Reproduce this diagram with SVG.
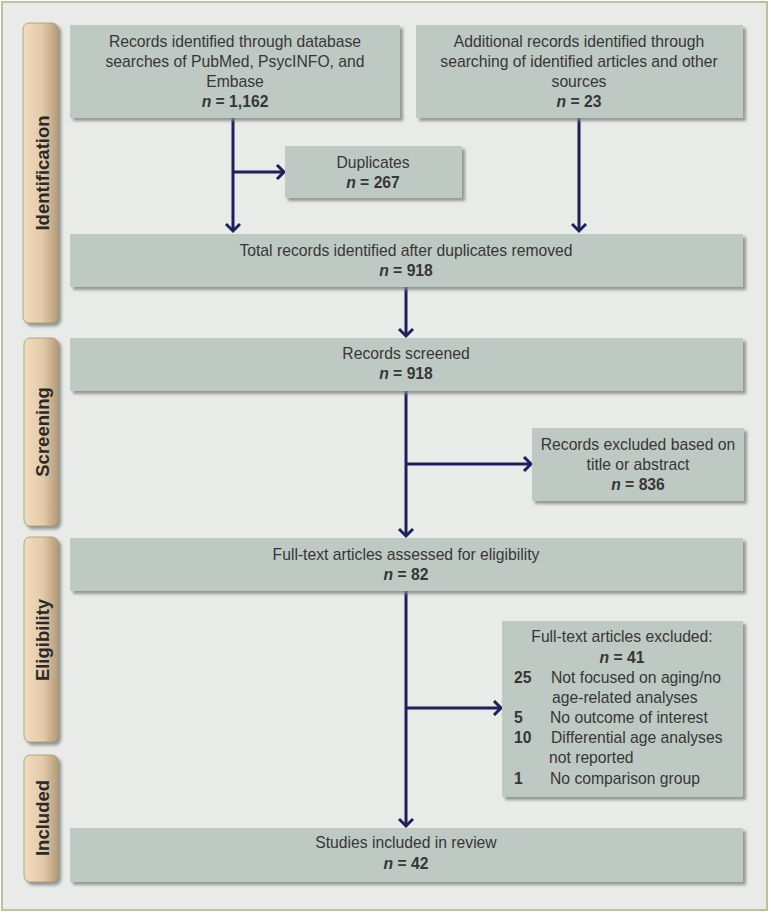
<svg xmlns="http://www.w3.org/2000/svg" width="771" height="913" viewBox="0 0 771 913">
<defs>
<linearGradient id="tabg" x1="0" y1="0" x2="1" y2="0">
<stop offset="0" stop-color="#f0dcc0"/>
<stop offset="0.55" stop-color="#e3cba9"/>
<stop offset="1" stop-color="#b49c7c"/>
</linearGradient>
<filter id="sh" x="-10%" y="-10%" width="130%" height="140%">
<feDropShadow dx="3" dy="3" stdDeviation="1.5" flood-color="#7d847f" flood-opacity="0.8"/>
</filter>
<marker id="ah" markerWidth="12" markerHeight="16" refX="9" refY="8" orient="auto" markerUnits="userSpaceOnUse">
<path d="M2,1 L9,8 L2,15" fill="none" stroke="#1e1f5b" stroke-width="3"/>
</marker>
</defs>
<style>
.box{fill:#bfc9c4;filter:url(#sh);}
.tab{fill:url(#tabg);stroke:#a99272;stroke-width:0.8;filter:url(#sh);}
text{font-family:"Liberation Sans","Open Sans",sans-serif;font-size:15.7px;fill:#363636;}
.c{text-anchor:middle;}
.b{font-weight:bold;}
.tl{font-weight:bold;font-size:18.5px;fill:#2a2a2a;text-anchor:middle;}
.con{fill:none;stroke:#1e1f5b;stroke-width:3;}
</style>
<rect x="2" y="2" width="765" height="908" fill="#e9ebe8" stroke="#c4bea0" stroke-width="2"/>

<g id="tab-identification">
<rect class="tab" x="23" y="23" width="35" height="300" rx="6"/>
<text class="tl" transform="translate(49,173) rotate(-90)">Identification</text>
</g>
<g id="tab-screening">
<rect class="tab" x="24" y="338" width="34" height="188" rx="6"/>
<text class="tl" transform="translate(48.5,432) rotate(-90)">Screening</text>
</g>
<g id="tab-eligibility">
<rect class="tab" x="24" y="537" width="34" height="205" rx="6"/>
<text class="tl" transform="translate(48.5,640) rotate(-90)">Eligibility</text>
</g>
<g id="tab-included">
<rect class="tab" x="24" y="755" width="34" height="127" rx="6"/>
<text class="tl" transform="translate(49,818) rotate(-90)">Included</text>
</g>

<g id="connectors">
<path class="con" d="M233,118 V231" marker-end="url(#ah)"/>
<path class="con" d="M233,172 H284" marker-end="url(#ah)"/>
<path class="con" d="M579,118 V231" marker-end="url(#ah)"/>
<path class="con" d="M406,287 V336" marker-end="url(#ah)"/>
<path class="con" d="M406,391 V536" marker-end="url(#ah)"/>
<path class="con" d="M406,464 H531" marker-end="url(#ah)"/>
<path class="con" d="M406,591 V826" marker-end="url(#ah)"/>
<path class="con" d="M406,708 H501" marker-end="url(#ah)"/>
</g>

<g id="db-records">
<rect class="box" x="70" y="25" width="330" height="93"/>
<text class="c" x="235" y="47">Records identified through database</text>
<text class="c" x="235" y="67">searches of PubMed, PsycINFO, and</text>
<text class="c" x="235" y="87">Embase</text>
<text class="c b" x="235" y="107"><tspan font-style="italic">n</tspan> = 1,162</text>
</g>
<g id="additional-records">
<rect class="box" x="416" y="25" width="327" height="93"/>
<text class="c" x="579" y="47">Additional records identified through</text>
<text class="c" x="579" y="67">searching of identified articles and other</text>
<text class="c" x="579" y="87">sources</text>
<text class="c b" x="579" y="107"><tspan font-style="italic">n</tspan> = 23</text>
</g>
<g id="duplicates">
<rect class="box" x="285" y="146" width="177" height="52"/>
<text class="c" x="373" y="168">Duplicates</text>
<text class="c b" x="373" y="188"><tspan font-style="italic">n</tspan> = 267</text>
</g>
<g id="total-records">
<rect class="box" x="70" y="234" width="673" height="53"/>
<text class="c" x="406" y="256">Total records identified after duplicates removed</text>
<text class="c b" x="406" y="276"><tspan font-style="italic">n</tspan> = 918</text>
</g>
<g id="records-screened">
<rect class="box" x="70" y="338" width="673" height="53"/>
<text class="c" x="406" y="359">Records screened</text>
<text class="c b" x="406" y="379"><tspan font-style="italic">n</tspan> = 918</text>
</g>
<g id="records-excluded">
<rect class="box" x="532" y="428" width="212" height="73"/>
<text class="c" x="638" y="450">Records excluded based on</text>
<text class="c" x="638" y="470">title or abstract</text>
<text class="c b" x="638" y="490"><tspan font-style="italic">n</tspan> = 836</text>
</g>
<g id="fulltext-assessed">
<rect class="box" x="70" y="538" width="673" height="53"/>
<text class="c" x="406" y="560">Full-text articles assessed for eligibility</text>
<text class="c b" x="406" y="580"><tspan font-style="italic">n</tspan> = 82</text>
</g>
<g id="fulltext-excluded">
<rect class="box" x="502" y="621" width="241" height="176"/>
<text class="c" x="622" y="642">Full-text articles excluded:</text>
<text class="c b" x="622" y="663"><tspan font-style="italic">n</tspan> = 41</text>
<text class="b" x="514" y="683">25</text>
<text x="551" y="683">Not focused on aging/no</text>
<text x="552" y="703">age-related analyses</text>
<text class="b" x="514" y="723">5</text>
<text x="550" y="723">No outcome of interest</text>
<text class="b" x="514" y="743">10</text>
<text x="551" y="743">Differential age analyses</text>
<text x="549" y="763">not reported</text>
<text class="b" x="514" y="784">1</text>
<text x="550" y="784">No comparison group</text>
</g>
<g id="studies-included">
<rect class="box" x="70" y="828" width="673" height="54"/>
<text class="c" x="406" y="848">Studies included in review</text>
<text class="c b" x="406" y="869"><tspan font-style="italic">n</tspan> = 42</text>
</g>
</svg>
